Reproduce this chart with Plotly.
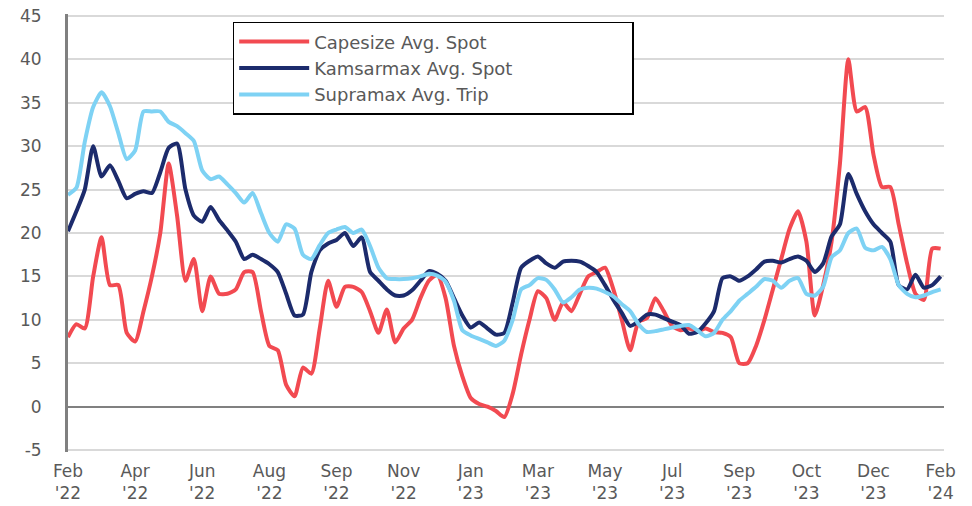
import plotly.graph_objects as go

weeks = list(range(105))

tick_vals = list(range(0, 105, 8))
tick_text = ["Feb<br>'22", "Apr<br>'22", "Jun<br>'22", "Aug<br>'22", "Sep<br>'22", "Nov<br>'22",
             "Jan<br>'23", "Mar<br>'23", "May<br>'23", "Jul<br>'23", "Sep<br>'23", "Oct<br>'23",
             "Dec<br>'23", "Feb<br>'24"]

y_tick_vals = [-5, 0, 5, 10, 15, 20, 25, 30, 35, 40, 45]
y_tick_text = ["-5", "0", "5", "10", "15", "20", "25", "30", "35", "40", "45"]

capesize = [8, 9.5, 9, 15, 19.5, 14, 14, 8.5, 7.5, 11, 15, 20, 28, 22, 14.5, 17, 11, 15, 13, 13,
            13.5, 15.5, 15.5, 11, 7, 6.5, 2.5, 1.2, 4.5, 3.8, 9, 14.5, 11.5, 13.8, 13.8, 13.2, 11, 8.5, 11.2, 7.4,
            9, 10, 12.5, 14.5, 15.2, 12.5, 7, 3.5, 1, 0.3, 0, -0.5, -1.2, 1.5, 6, 10, 13.3, 12.5, 10, 12,
            11, 13, 15, 15.5, 16, 13.5, 10, 6.5, 9.8, 10.2, 12.5, 11, 9.3, 8.8, 9, 8.7, 9, 8.6, 8.5, 8,
            5, 5, 7, 10, 13.5, 17, 20.5, 22.5, 19, 10.5, 14, 19, 28, 40, 34, 34.5, 29, 25.3, 25.3, 21,
            16.5, 13, 12.3, 18.2, 18.2]

kamsarmax = [20.2, 22.5, 25, 30, 26.5, 27.8, 26, 24, 24.5, 24.8, 24.6, 27, 29.8, 30.3, 25, 22, 21.3, 23, 21.5, 20.3,
             19, 17, 17.5, 17, 16.4, 15.5, 13, 10.5, 10.6, 15.5, 18, 18.8, 19.2, 20, 18.5, 19.5, 15.5, 14.5, 13.5, 12.8,
             12.8, 13.4, 14.5, 15.6, 15.3, 14.5, 12.5, 10.5, 9.1, 9.7, 9, 8.3, 8.5, 12, 16, 16.8, 17.3, 16.5, 16, 16.7,
             16.8, 16.7, 16.2, 15.5, 14, 12.3, 10.8, 9.3, 9.8, 10.6, 10.6, 10.2, 9.8, 9.4, 8.4, 8.6, 9.6, 11, 14.8, 15,
             14.5, 15, 15.8, 16.7, 16.8, 16.6, 17, 17.3, 16.8, 15.5, 16.5, 19.6, 21, 26.8, 24.5, 22.5, 21, 20, 19, 14,
             13.5, 15.2, 13.7, 14, 15]

supramax = [24.4, 25.2, 30.5, 34.5, 36.2, 34.6, 31.5, 28.5, 29.5, 34, 34, 34, 32.8, 32.3, 31.5, 30.6, 27.2, 26.2, 26.5, 25.6,
            24.6, 23.5, 24.6, 22.3, 20, 19, 21, 20.5, 17.5, 17, 18.6, 20, 20.4, 20.7, 20, 20.4, 18.5, 16, 14.8, 14.7,
            14.7, 14.8, 15, 15.3, 15.1, 14.4, 12.2, 8.8, 8.2, 7.8, 7.4, 7, 7.6, 10, 13.5, 14, 14.8, 14.6, 13.5, 12,
            12.6, 13.5, 13.7, 13.6, 13.2, 12.7, 11.8, 11, 9.5, 8.6, 8.7, 8.9, 9.1, 9.3, 9.4, 8.8, 8.1, 8.5, 10, 11,
            12.2, 13, 13.8, 14.7, 14.5, 13.7, 14.5, 14.8, 13, 12.8, 13.8, 17.2, 18, 20, 20.5, 18.3, 18, 18.4, 17, 14,
            13, 12.6, 12.8, 13.2, 13.5]

series = [
    ("Capesize Avg. Spot", capesize, "#F24A51"),
    ("Kamsarmax Avg. Spot", kamsarmax, "#1C2B6C"),
    ("Supramax Avg. Trip", supramax, "#7ED2F4"),
]

pad = "\u00a0" * 20

fig = go.Figure()
for name, vals, color in series:
    fig.add_trace(go.Scatter(
        x=weeks, y=vals, name=name + pad, mode="lines",
        line=dict(color=color, width=4, shape="spline", smoothing=0.6),
    ))

font_family = "DejaVu Sans, Verdana, sans-serif"

fig.update_layout(
    width=972, height=506,
    margin=dict(l=68, r=28, t=14, b=54, autoexpand=False),
    paper_bgcolor="white", plot_bgcolor="white",
    font=dict(family=font_family, color="#595959", size=15),
    showlegend=True,
    legend=dict(
        x=0.188, y=0.982, xanchor="left", yanchor="top",
        bordercolor="#000000", borderwidth=1.5, bgcolor="white",
        font=dict(size=18, color="#595959", family=font_family),
        itemwidth=70, tracegroupgap=0,
    ),
    xaxis=dict(
        range=[0, 104.4], tickmode="array", tickvals=tick_vals, ticktext=tick_text,
        showgrid=False, zeroline=False, showline=False, ticks="", automargin=False,
        tickfont=dict(size=17, color="#595959"), ticklabelstandoff=7,
        ticklabeloverflow="allow",
    ),
    yaxis=dict(
        range=[-5.22, 45.22], tickmode="array", tickvals=y_tick_vals, ticktext=y_tick_text,
        showgrid=True, gridcolor="#D9D9D9", gridwidth=2,
        zeroline=True, zerolinecolor="#808080", zerolinewidth=2,
        showline=True, linecolor="#808080", linewidth=3, automargin=False,
        ticks="", tickfont=dict(size=17, color="#595959"), ticklabelstandoff=20,
        ticklabeloverflow="allow",
    ),
)

fig.write_html("out.html", config={"displayModeBar": False},
               post_script="document.body.style.margin='0';")
